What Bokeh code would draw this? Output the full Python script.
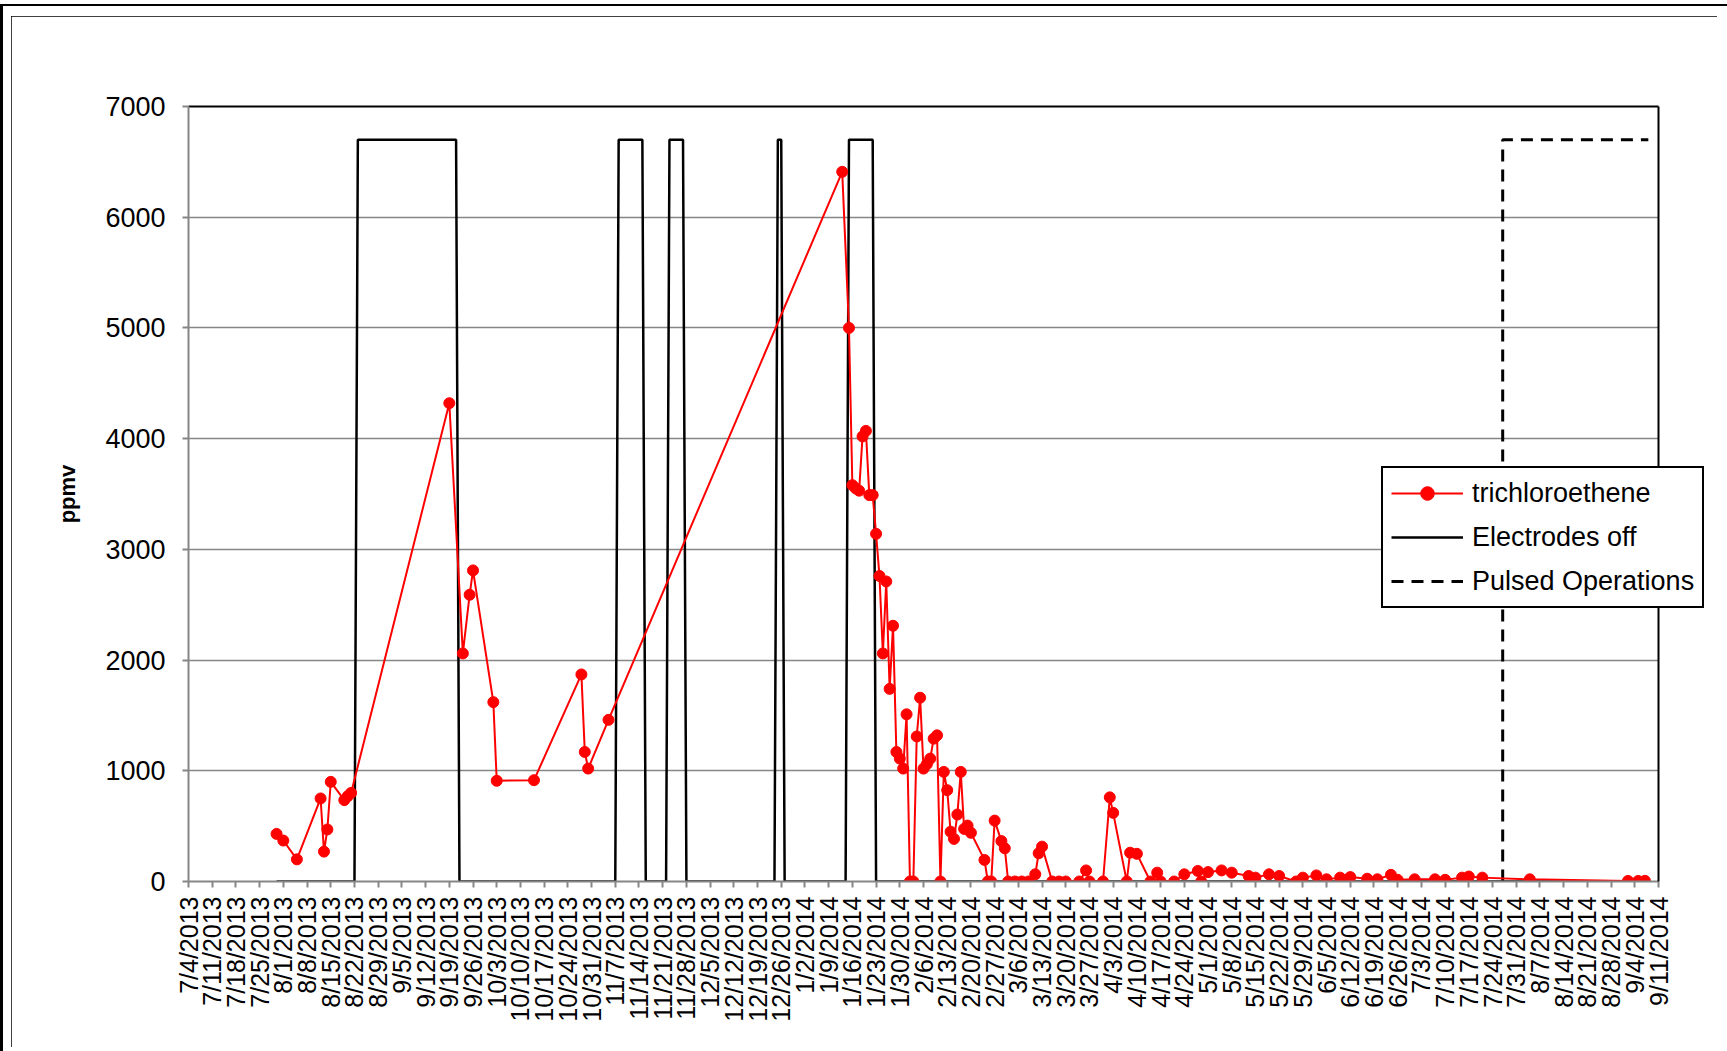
import math
import pandas as pd
from bokeh.plotting import figure
from bokeh.layouts import column
from bokeh.models import (Range1d, FixedTicker, LinearAxis, Legend, LegendItem,
                          ColumnDataSource)
from bokeh.embed import file_html
from bokeh.resources import INLINE

# ---------------- data ----------------
tick_labels = [
    "7/4/2013", "7/11/2013", "7/18/2013", "7/25/2013", "8/1/2013", "8/8/2013",
    "8/15/2013", "8/22/2013", "8/29/2013", "9/5/2013", "9/12/2013", "9/19/2013",
    "9/26/2013", "10/3/2013", "10/10/2013", "10/17/2013", "10/24/2013",
    "10/31/2013", "11/7/2013", "11/14/2013", "11/21/2013", "11/28/2013",
    "12/5/2013", "12/12/2013", "12/19/2013", "12/26/2013", "1/2/2014",
    "1/9/2014", "1/16/2014", "1/23/2014", "1/30/2014", "2/6/2014", "2/13/2014",
    "2/20/2014", "2/27/2014", "3/6/2014", "3/13/2014", "3/20/2014", "3/27/2014",
    "4/3/2014", "4/10/2014", "4/17/2014", "4/24/2014", "5/1/2014", "5/8/2014",
    "5/15/2014", "5/22/2014", "5/29/2014", "6/5/2014", "6/12/2014", "6/19/2014",
    "6/26/2014", "7/3/2014", "7/10/2014", "7/17/2014", "7/24/2014", "7/31/2014",
    "8/7/2014", "8/14/2014", "8/21/2014", "8/28/2014", "9/4/2014", "9/11/2014",
]
y_ticks = [0, 1000, 2000, 3000, 4000, 5000, 6000, 7000]

tce_dates = [
    "2013-07-30", "2013-08-01", "2013-08-05", "2013-08-12", "2013-08-13",
    "2013-08-14", "2013-08-15", "2013-08-19", "2013-08-20", "2013-08-21",
    "2013-09-19", "2013-09-23", "2013-09-25", "2013-09-26", "2013-10-02",
    "2013-10-03", "2013-10-14", "2013-10-28", "2013-10-29", "2013-10-30",
    "2013-11-05",
    "2014-01-13", "2014-01-15", "2014-01-16", "2014-01-17", "2014-01-18",
    "2014-01-19", "2014-01-20", "2014-01-21", "2014-01-22", "2014-01-23",
    "2014-01-24", "2014-01-25", "2014-01-26", "2014-01-27", "2014-01-28",
    "2014-01-29", "2014-01-30", "2014-01-31", "2014-02-01", "2014-02-02",
    "2014-02-03", "2014-02-04", "2014-02-05", "2014-02-06", "2014-02-07",
    "2014-02-08", "2014-02-09", "2014-02-10", "2014-02-11", "2014-02-12",
    "2014-02-13", "2014-02-14", "2014-02-15", "2014-02-16", "2014-02-17",
    "2014-02-18", "2014-02-19", "2014-02-20", "2014-02-24", "2014-02-25",
    "2014-02-26", "2014-02-27", "2014-03-01", "2014-03-02", "2014-03-03",
    "2014-03-05", "2014-03-07", "2014-03-09", "2014-03-11", "2014-03-12",
    "2014-03-13", "2014-03-16", "2014-03-18", "2014-03-20", "2014-03-24",
    "2014-03-26", "2014-03-27", "2014-03-31", "2014-04-02", "2014-04-03",
    "2014-04-07", "2014-04-08", "2014-04-10", "2014-04-14", "2014-04-16",
    "2014-04-17", "2014-04-21", "2014-04-24", "2014-04-28", "2014-04-29",
    "2014-05-01", "2014-05-05", "2014-05-08", "2014-05-13", "2014-05-15",
    "2014-05-19", "2014-05-22", "2014-05-27", "2014-05-29", "2014-06-02",
    "2014-06-05", "2014-06-09", "2014-06-12", "2014-06-17", "2014-06-20",
    "2014-06-24", "2014-06-26", "2014-07-01", "2014-07-07", "2014-07-10",
    "2014-07-15", "2014-07-17", "2014-07-21", "2014-08-04", "2014-09-02",
    "2014-09-05", "2014-09-07",
]
tce_ppmv = [
    430, 370, 200, 750, 270,
    470, 900, 735, 770, 800,
    4320, 2060, 2590, 2810, 1620,
    910, 915, 1870, 1170, 1020,
    1460,
    6410, 5000, 3580, 3550, 3530,
    4020, 4070, 3490, 3490, 3140,
    2760, 2060, 2710, 1740, 2310,
    1170, 1110, 1020, 1510, 0,
    0, 1310, 1660, 1020, 1060,
    1110, 1290, 1320, 0, 990,
    825, 450, 385, 605, 990,
    475, 505, 440, 195, 0,
    0, 550, 365, 300, 0,
    0, 0, 0, 65, 255,
    315, 0, 0, 0, 0,
    100, 0, 0, 760, 620,
    0, 260, 250, 0, 80,
    0, 0, 65, 95, 0,
    85, 100, 80, 50, 35,
    65, 50, 0, 35, 55,
    20, 35, 40, 25, 20,
    60, 15, 20, 20, 15,
    35, 45, 35, 20, 5,
    5, 6,
]

electrodes_dates = [
    "2013-07-30", "2013-08-22", "2013-08-23", "2013-09-21", "2013-09-22",
    "2013-11-07", "2013-11-08", "2013-11-15", "2013-11-16", "2013-11-22",
    "2013-11-23", "2013-11-27", "2013-11-28", "2013-12-24", "2013-12-25",
    "2013-12-26", "2013-12-27", "2014-01-14", "2014-01-15", "2014-01-22",
    "2014-01-23", "2014-09-07",
]
electrodes_off = [
    0, 0, 6700, 6700, 0,
    0, 6700, 6700, 0, 0,
    6700, 6700, 0, 0, 6700,
    6700, 0, 0, 6700, 6700,
    0, 0,
]

pulsed_dates = ["2014-07-27", "2014-07-27", "2014-09-08"]
pulsed_ops = [0, 6700, 6700]

series_names = ["trichloroethene", "Electrodes off", "Pulsed Operations"]

# ---------------- figure ----------------
FONT = "Liberation Sans"
GRID = "#868686"
RED = "#FF0000"

tick_dt = pd.to_datetime(tick_labels, format="%m/%d/%Y")
epoch = pd.Timestamp("1970-01-01")
tick_ms = [float((d - epoch) // pd.Timedelta(milliseconds=1)) for d in tick_dt]

p = figure(
    width=1706, height=1031,
    x_axis_type="datetime",
    x_range=Range1d(start=tick_dt[0], end=tick_dt[-1]),
    y_range=Range1d(start=0, end=7000),
    output_backend="svg", toolbar_location=None,
    min_border_left=177, min_border_right=59,
    min_border_top=90, min_border_bottom=166,
    background_fill_color="white", border_fill_color="white",
)
p.frame_align = False
p.margin = (16, 0, 0, 11)
p.styles = {
    "outline": "2px solid black",
    "outline-offset": "-2px",
    "box-shadow": "4px 2px 0 12px white, 1px 0px 0 12px black",
}
p.outline_line_color = None

# grid
p.xgrid.grid_line_color = None
p.ygrid.grid_line_color = GRID
p.ygrid.grid_line_width = 1.5
p.ygrid.ticker = FixedTicker(ticks=y_ticks)

# y axis
p.yaxis.ticker = FixedTicker(ticks=y_ticks)
p.yaxis.axis_label = "ppmv"
p.yaxis.axis_label_text_font = FONT
p.yaxis.axis_label_text_font_style = "bold"
p.yaxis.axis_label_text_font_size = "22px"
p.yaxis.axis_label_text_color = "black"
p.yaxis.axis_label_standoff = 22
p.yaxis.major_label_text_font = FONT
p.yaxis.major_label_text_font_size = "27px"
p.yaxis.major_label_text_color = "black"
p.yaxis.major_label_standoff = 17
p.yaxis.axis_line_color = GRID
p.yaxis.axis_line_width = 2
p.yaxis.major_tick_line_color = GRID
p.yaxis.major_tick_line_width = 2
p.yaxis.major_tick_out = 6
p.yaxis.major_tick_in = 0
p.yaxis.minor_tick_line_color = None

# x axis
p.xaxis.ticker = FixedTicker(ticks=tick_ms)
p.xaxis.major_label_overrides = dict(zip(tick_ms, tick_labels))
p.xaxis.major_label_orientation = math.pi / 2
p.xaxis.major_label_text_font = FONT
p.xaxis.major_label_text_font_size = "25px"
p.xaxis.major_label_text_color = "black"
p.xaxis.major_label_standoff = 9
p.xaxis.axis_line_color = GRID
p.xaxis.axis_line_width = 2
p.xaxis.major_tick_line_color = GRID
p.xaxis.major_tick_line_width = 2
p.xaxis.major_tick_out = 6
p.xaxis.major_tick_in = 0
p.xaxis.minor_tick_line_color = None

# top / right borders of plot area
for side in ("above", "right"):
    ax = LinearAxis(ticker=FixedTicker(ticks=[]), axis_line_color="black",
                    axis_line_width=2, major_tick_line_color=None,
                    minor_tick_line_color=None, major_label_text_font_size="0px")
    p.add_layout(ax, side)

# series
src_el = ColumnDataSource(dict(x=pd.to_datetime(electrodes_dates), y=electrodes_off))
src_pu = ColumnDataSource(dict(x=pd.to_datetime(pulsed_dates), y=pulsed_ops))
src_tce = ColumnDataSource(dict(x=pd.to_datetime(tce_dates), y=tce_ppmv))

el_style = dict(line_color="black", line_width=2.5)
pu_style = dict(line_color="black", line_width=3, line_dash="12 8")
tl_style = dict(line_color=RED, line_width=2)
ts_style = dict(marker="circle", size=11, fill_color=RED, line_color=RED)

p.line("x", "y", source=src_el, **el_style)
p.line("x", "y", source=src_pu, **pu_style)
p.line("x", "y", source=src_tce, **tl_style)
p.scatter("x", "y", source=src_tce, **ts_style)

# ---------------- legend (overlay so it may extend past the plot area) ----------------
# The overlay's own ranges lie after the data, so its series copies stay out of view
# and only serve as legend glyphs.
lg = figure(
    width=338, height=158,
    x_range=Range1d(start=pd.Timestamp("2015-01-01"), end=pd.Timestamp("2015-03-01")),
    y_range=Range1d(start=0, end=7000),
    output_backend="svg", toolbar_location=None,
    min_border=0, x_axis_location=None, y_axis_location=None,
    outline_line_color=None, background_fill_alpha=0, border_fill_alpha=0,
)
lg.frame_align = False
lg.xgrid.visible = False
lg.ygrid.visible = False
lg.margin = (465 - 1047, 0, 0, 1380)

g_tl = lg.line("x", "y", source=src_tce, **tl_style)
g_ts = lg.scatter("x", "y", source=src_tce, **ts_style)
g_el = lg.line("x", "y", source=src_el, **el_style)
g_pu = lg.line("x", "y", source=src_pu, **pu_style)

legend = Legend(
    items=[
        LegendItem(label=series_names[0], renderers=[g_tl, g_ts]),
        LegendItem(label=series_names[1], renderers=[g_el]),
        LegendItem(label=series_names[2], renderers=[g_pu]),
    ],
    location="top_left",
    label_text_font=FONT, label_text_font_size="27px", label_text_color="black",
    label_height=34, glyph_height=34, glyph_width=72, label_width=216,
    label_standoff=9, spacing=10, padding=8, margin=1,
    border_line_color="black", border_line_width=2, border_line_alpha=1.0,
    background_fill_color="white", background_fill_alpha=1.0,
)
lg.add_layout(legend)

layout = column(p, lg, spacing=0)
open("out.html", "w").write(file_html(layout, INLINE))
